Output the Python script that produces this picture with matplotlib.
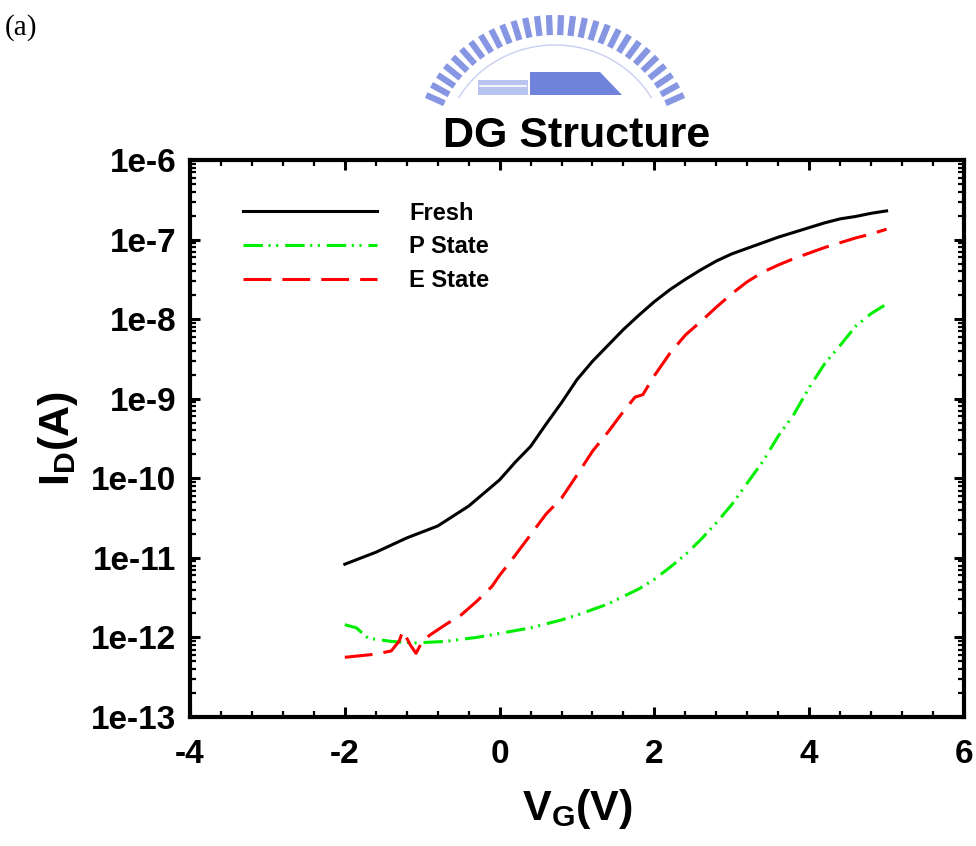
import numpy as np
import matplotlib
matplotlib.use('Agg')
import matplotlib.pyplot as plt
from matplotlib import rcParams
from matplotlib.ticker import FixedLocator, MultipleLocator, LogLocator, NullFormatter
from matplotlib.patches import Polygon

rcParams['font.family'] = 'sans-serif'
rcParams['font.sans-serif'] = ['Liberation Sans', 'DejaVu Sans']
rcParams['font.weight'] = 'bold'
rcParams['axes.unicode_minus'] = False
rcParams['mathtext.fontset'] = 'custom'
rcParams['mathtext.rm'] = 'Liberation Sans:bold'
rcParams['mathtext.bf'] = 'Liberation Sans:bold'
rcParams['lines.scale_dashes'] = False

# gate voltage (V) and log10 of drain current (A)
vg_fresh = [-2.0, -1.6, -1.2, -0.8, -0.4, 0.0, 0.2, 0.4, 0.6, 0.8, 1.0, 1.2,
            1.4, 1.6, 1.8, 2.0, 2.2, 2.4, 2.6, 2.8, 3.0, 3.2, 3.4, 3.6, 3.8,
            4.0, 4.2, 4.4, 4.6, 4.8, 5.0]
logi_fresh = [-11.08, -10.93, -10.75, -10.60, -10.35, -10.02, -9.80, -9.60,
              -9.32, -9.05, -8.76, -8.53, -8.33, -8.13, -7.95, -7.78, -7.63,
              -7.50, -7.38, -7.27, -7.18, -7.11, -7.04, -6.97, -6.91, -6.85,
              -6.79, -6.74, -6.71, -6.67, -6.64]

vg_p = [-2.0, -1.85, -1.7, -1.4, -1.1, -0.7, -0.3, 0.0, 0.4, 0.8, 1.0, 1.4,
        1.8, 2.0, 2.2, 2.4, 2.6, 2.8, 3.0, 3.2, 3.4, 3.6, 3.8, 4.0, 4.2, 4.4,
        4.6, 4.8, 5.0]
logi_p = [-11.84, -11.88, -12.01, -12.05, -12.07, -12.05, -12.00, -11.95,
          -11.88, -11.78, -11.72, -11.58, -11.39, -11.27, -11.12, -10.96,
          -10.77, -10.56, -10.33, -10.06, -9.79, -9.47, -9.20, -8.86, -8.56,
          -8.33, -8.09, -7.93, -7.81]

vg_e = [-2.0, -1.8, -1.6, -1.4, -1.3, -1.25, -1.15, -1.08, -1.0, -0.9, -0.7,
        -0.5, -0.3, -0.1, 0.0, 0.2, 0.4, 0.6, 0.8, 1.0, 1.2, 1.4, 1.6, 1.75,
        1.85, 2.0, 2.2, 2.4, 2.6, 2.8, 3.0, 3.2, 3.4, 3.6, 3.8, 4.0, 4.2, 4.4,
        4.6, 4.8, 5.0]
logi_e = [-12.25, -12.23, -12.21, -12.17, -12.05, -11.92, -12.10, -12.20,
          -12.05, -11.97, -11.84, -11.72, -11.55, -11.36, -11.22, -10.97,
          -10.71, -10.45, -10.25, -9.96, -9.66, -9.42, -9.16, -8.98, -8.95,
          -8.71, -8.43, -8.20, -8.03, -7.85, -7.68, -7.53, -7.41, -7.32, -7.24,
          -7.17, -7.10, -7.04, -6.98, -6.93, -6.87]

ytick_vals = [1e-13, 1e-12, 1e-11, 1e-10, 1e-9, 1e-8, 1e-7, 1e-6]
ytick_labels = ['1e-13', '1e-12', '1e-11', '1e-10', '1e-9', '1e-8', '1e-7', '1e-6']

fig = plt.figure(figsize=(9.76, 8.46), dpi=100)

# faint university logo watermark behind the title
bg = fig.add_axes([0, 0, 1, 1], zorder=-1)
bg.set_xlim(0, 976)
bg.set_ylim(846, 0)
bg.axis('off')
wm = '#8796e2'
cx, cy, rx, ry = 555, 150, 141, 135
for th in np.radians(np.linspace(24, 156, 28)):
    x0, y0 = cx + rx * np.cos(th), cy - ry * np.sin(th)
    x1, y1 = cx + (rx - 20) * np.cos(th), cy - (ry - 20) * np.sin(th)
    bg.plot([x0, x1], [y0, y1], color=wm, lw=4.5, solid_capstyle='butt')
t = np.radians(np.linspace(30, 150, 60))
bg.plot(cx + (rx - 30) * np.cos(t), cy - (ry - 30) * np.sin(t), color='#c8cff2', lw=1)
bg.add_patch(Polygon([[530, 95], [530, 72], [600, 72], [622, 95]],
                     closed=True, color='#6f82dc', lw=0))
bg.add_patch(Polygon([[478, 95], [478, 80], [528, 80], [528, 95]],
                     closed=True, color='#b9c3ef', lw=0))
bg.plot([480, 526], [86, 86], color='white', lw=1.2)

ax = fig.add_axes([0.1947, 0.1525, 0.793, 0.6584])

ax.plot(vg_fresh, 10 ** np.array(logi_fresh), color='black', lw=2.2,
        label='Fresh')
ax.plot(vg_p, 10 ** np.array(logi_p), color='#00ee00', lw=2.2,
        dashes=(14, 4, 1.5, 4, 1.5, 5), label='P State')
ax.plot(vg_e, 10 ** np.array(logi_e), color='#ff0000', lw=2.2,
        dashes=(20, 8), label='E State')

ax.set_yscale('log')
ax.set_xlim(-4, 6)
ax.set_ylim(1e-13, 1e-6)
ax.xaxis.set_major_locator(MultipleLocator(2))
ax.xaxis.set_minor_locator(MultipleLocator(0.4))
ax.yaxis.set_major_locator(FixedLocator(ytick_vals))
ax.yaxis.set_minor_locator(LogLocator(base=10, subs=np.arange(2, 10)))
ax.yaxis.set_minor_formatter(NullFormatter())
ax.set_yticklabels(ytick_labels)

for s in ax.spines.values():
    s.set_linewidth(3)
ax.tick_params(which='both', direction='in', top=True, right=True)
ax.tick_params(which='major', length=7, width=2.2, labelsize=24)
ax.tick_params(which='minor', length=4.5, width=1.6)
ax.tick_params(axis='x', which='major', pad=16)
ax.tick_params(axis='y', which='major', pad=10)

ax.set_title('DG Structure', fontsize=31, fontweight='bold', pad=9)
ax.set_xlabel(r'V$_\mathregular{G}$(V)', fontsize=31, fontweight='bold',
              labelpad=12)
ax.set_ylabel(r'I$_\mathregular{D}$(A)', fontsize=31, fontweight='bold',
              labelpad=8)

leg = ax.legend(loc='upper left', bbox_to_anchor=(0.068, 0.925),
                frameon=False, borderpad=0, borderaxespad=0,
                handlelength=5.7, handletextpad=1.35, labelspacing=0.45,
                prop={'size': 17, 'weight': 'bold'})

fig.text(0.005, 0.967, '(a)', family='Liberation Serif', fontweight='normal',
         fontsize=21, va='center', ha='left')

fig.savefig('out.png', dpi=100)
